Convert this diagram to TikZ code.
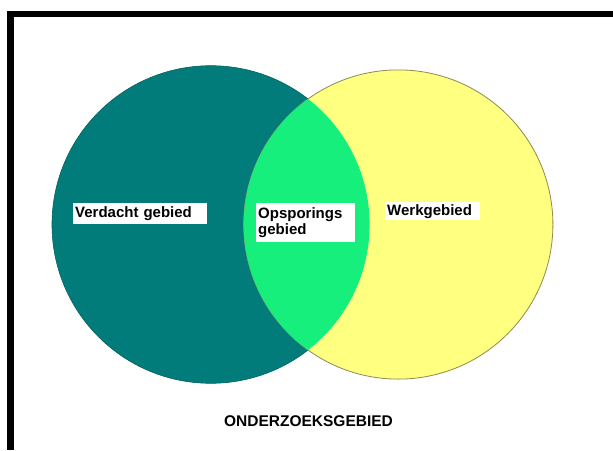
\documentclass[tikz,border=0pt]{standalone}
\usepackage{fontspec}
\setmainfont{Liberation Sans}
\definecolor{tealc}{HTML}{027C7A}
\definecolor{tealline}{HTML}{04605F}
\definecolor{lensc}{HTML}{16EF7C}
\definecolor{yellowc}{HTML}{FFFF80}
\definecolor{yellowline}{HTML}{8C8A55}
\begin{document}
\begin{tikzpicture}[x=1pt,y=-1pt,
  lab/.style={fill=white,inner xsep=2pt,inner ysep=0pt,align=left,
    font=\fontsize{15}{16}\selectfont\bfseries,text=black},
  title/.style={font=\fontsize{15.5}{17}\selectfont\bfseries,text=black}]
\useasboundingbox (0,0) rectangle (613,450);
\fill[white] (0,0) rectangle (613,450);
% frame (top and left edges)
\fill[black] (7,11) rectangle (613,17);
\fill[black] (7,11) rectangle (14,450);
% circles
\coordinate (c1) at (210.8,224.5);
\coordinate (c2) at (398.3,224.5);
\filldraw[fill=tealc,draw=tealline,line width=0.6pt] (c1) circle[radius=158.8];
\filldraw[fill=yellowc,draw=yellowline,line width=0.8pt] (c2) circle[radius=154.6];
\begin{scope}
  \clip (c1) circle[radius=158.8];
  \fill[lensc] (c2) circle[radius=154.6];
\end{scope}
% labels
\node[lab,anchor=north west,text width=130pt,minimum height=21pt] (verdacht) at (73,203) {Verdacht gebied};
\node[lab,anchor=north west,text width=95pt,minimum height=39pt] (opsporing) at (256,203) {Opsporings\\gebied};
\node[lab,anchor=north west,text width=91pt,minimum height=18pt] (werk) at (385,202) {Werkgebied};
\node[title,anchor=base] (onderzoek) at (308.5,426) {ONDERZOEKSGEBIED};
\end{tikzpicture}
\end{document}
